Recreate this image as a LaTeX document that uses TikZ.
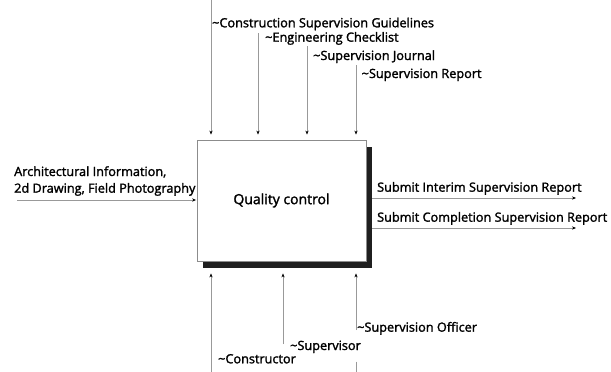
\documentclass[tikz,border=0pt]{standalone}
\usepackage{fontspec}
\setmainfont{Open Sans}[RawFeature={embolden=1.8}]
\usetikzlibrary{arrows.meta,calc}
\tikzset{
  lbl/.style={anchor=base west,inner sep=0pt,font=\fontsize{12.7}{15}\selectfont},
  conn/.style={draw=black!40,line width=0.7pt,-{Stealth[length=4pt,width=3.2pt,black]}},
  plain/.style={draw=black!40,line width=0.7pt},
  boxst/.style={draw=black!45,line width=0.8pt,fill=white,minimum width=169pt,minimum height=121pt,inner sep=0pt,font=\fontsize{14}{16}\selectfont}
}
\begin{document}
\begin{tikzpicture}[x=1pt,y=-1pt]
\useasboundingbox (0,0) rectangle (611,372);
\fill[white] (0,0) rectangle (611,372);
% shadow + box
\coordinate (sh1) at (203,147);
\coordinate (sh2) at (372,268);
\fill[black!88] (sh1) rectangle (sh2);
\node[boxst] (qc) at (281.5,200.5) {Quality control};
% controls (top)
\coordinate (c1) at (211,0);
\coordinate (c2) at (258,33);
\coordinate (c3) at (307,46);
\coordinate (c4) at (356,65);
\foreach \c in {c1,c2,c3,c4}{
  \draw[conn,shorten >=5pt] (\c) -- (\c |- qc.north);
}
\node[lbl] (tc1) at (212,27.3) {\textasciitilde Construction Supervision Guidelines};
\node[lbl] (tc2) at (265,41.7) {\textasciitilde Engineering Checklist};
\node[lbl] (tc3) at (313,60) {\textasciitilde Supervision Journal};
\node[lbl] (tc4) at (361.5,78) {\textasciitilde Supervision Report};
% input
\coordinate (in1) at (17,200);
\draw[conn,shorten >=0.5pt] (in1) -- (in1 -| qc.west);
\node[lbl] (ti1) at (14,176) {Architectural Information,};
\node[lbl] (ti2) at (14,192.7) {2d Drawing, Field Photography};
% outputs
\coordinate (o1) at (576,198);
\coordinate (o2) at (576,228);
\draw[conn] (o1 -| sh2) -- (o1);
\draw[conn] (o2 -| sh2) -- (o2);
\node[lbl] (to1) at (377,191.7) {Submit Interim Supervision Report};
\node[lbl] (to2) at (377,221.7) {Submit Completion Supervision Report};
% mechanisms (bottom)
\coordinate (m1) at (211,372);
\coordinate (m2) at (283,344);
\coordinate (m3) at (356,330);
\coordinate (m3b) at (356,361.5);
\coordinate (m3c) at (356,372);
\draw[conn,shorten >=12pt] (m1) -- (m1 |- qc.south);
\draw[conn,shorten >=12pt] (m2) -- (m2 |- qc.south);
\draw[conn,shorten >=12pt] (m3) -- (m3 |- qc.south);
\draw[plain] (m3b) -- (m3c);
\node[lbl] (tm3) at (357,331.7) {\textasciitilde Supervision Officer};
\node[lbl] (tm2) at (290,350) {\textasciitilde Supervisor};
\node[lbl] (tm1) at (218,363.3) {\textasciitilde Constructor};
\end{tikzpicture}
\end{document}
